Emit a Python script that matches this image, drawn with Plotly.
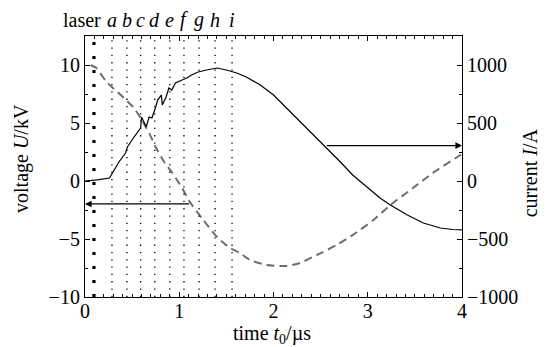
import plotly.graph_objects as go

# ---- data ----
t_current = [0.0, 0.13, 0.26, 0.31, 0.36, 0.43, 0.45, 0.52, 0.59, 0.60, 0.65, 0.68, 0.71,
             0.75, 0.77, 0.81, 0.82, 0.86, 0.89, 0.92, 0.96, 1.03, 1.08, 1.13, 1.20, 1.29,
             1.40, 1.50, 1.61, 1.71, 1.86, 2.00, 2.14, 2.28, 2.42, 2.55, 2.71, 2.84, 2.99,
             3.13, 3.24, 3.42, 3.59, 3.77, 3.90, 4.00]
current = [0, 9, 26, 95, 164, 241, 293, 379, 457, 552, 466, 552, 543,
           638, 698, 741, 655, 724, 802, 784, 845, 871, 888, 914, 940, 957,
           974, 957, 931, 897, 828, 741, 629, 509, 400, 300, 164, 52, -52,
           -147, -207, -293, -362, -405, -418, -422]

t_voltage = [0.06, 0.12, 0.23, 0.38, 0.52, 0.60, 0.68, 0.75, 0.84, 0.92, 1.03, 1.11, 1.25,
             1.40, 1.54, 1.64, 1.75, 1.93, 2.14, 2.28, 2.46, 2.67, 2.84, 3.06, 3.24, 3.48,
             3.69, 3.95, 4.00]
voltage = [10.0, 9.74, 8.53, 7.41, 6.29, 5.3, 4.14, 2.93, 1.64, 0.78, -0.6, -1.78, -3.3,
           -4.83, -5.78, -6.2, -6.8, -7.24, -7.33, -7.07, -6.38, -5.52, -4.66, -3.36, -2.07, -0.6,
           0.69, 2.07, 2.33]

laser_time = 0.095
frame_labels = ["a", "b", "c", "d", "e", "f", "g", "h", "i"]
frame_times = [0.286, 0.445, 0.59, 0.74, 0.90, 1.05, 1.21, 1.38, 1.56]

x_ticks = [0, 1, 2, 3, 4]
u_ticks = [-10, -5, 0, 5, 10]
u_tick_text = ["\u221210", "\u22125", "0", "5", "10"]
i_ticks = [-1000, -500, 0, 500, 1000]
i_tick_text = ["\u22121000", "\u2212500", "0", "500", "1000"]

voltage_arrow = {"from_t": 1.12, "to_t": 0.0, "value": -1.98}
current_arrow = {"from_t": 2.55, "to_t": 4.0, "value": 305}

FONT = "Liberation Serif, Times New Roman, serif"
FS = 20
fig = go.Figure()

# frame lines
for ft in frame_times:
    fig.add_shape(type="line", x0=ft, x1=ft, y0=0, y1=1, xref="x", yref="paper",
                  line=dict(color="black", width=1.3, dash="1.3px,6px"))
fig.add_shape(type="line", x0=laser_time, x1=laser_time, y0=0, y1=1, xref="x", yref="paper",
              line=dict(color="black", width=3.2, dash="3px,11px"))

fig.add_trace(go.Scatter(x=t_voltage, y=voltage, mode="lines", yaxis="y",
                         line=dict(color="#6e6e6e", width=2, dash="8px,5px", shape="spline",
                                   smoothing=0.6),
                         showlegend=False))
fig.add_trace(go.Scatter(x=t_current, y=current, mode="lines", yaxis="y2",
                         line=dict(color="black", width=1.2),
                         showlegend=False))

ann = []
ann.append(dict(x=voltage_arrow["to_t"], y=voltage_arrow["value"], xref="x", yref="y",
                ax=voltage_arrow["from_t"], ay=voltage_arrow["value"], axref="x", ayref="y",
                showarrow=True, arrowhead=2, arrowsize=1.1, arrowwidth=1.2, arrowcolor="black", text=""))
ann.append(dict(x=current_arrow["to_t"], y=current_arrow["value"], xref="x", yref="y2",
                ax=current_arrow["from_t"], ay=current_arrow["value"], axref="x", ayref="y2",
                showarrow=True, arrowhead=2, arrowsize=1.1, arrowwidth=1.2, arrowcolor="black", text=""))
# top labels
ann.append(dict(x=laser_time, y=1, xref="x", yref="paper", yshift=3, xshift=9,
                text="laser", showarrow=False, xanchor="right", yanchor="bottom",
                font=dict(family=FONT, size=FS, color="black")))
for lab, ft in zip(frame_labels, frame_times):
    ann.append(dict(x=ft, y=1, xref="x", yref="paper", yshift=3,
                    text="<i>%s</i>" % lab, showarrow=False, xanchor="center", yanchor="bottom",
                    font=dict(family=FONT, size=FS, color="black")))
# axis titles
ann.append(dict(x=0.497, y=-0.145, xref="paper", yref="paper", text="time <i>t</i><sub>0</sub>/µs",
                showarrow=False, xanchor="center", yanchor="middle",
                font=dict(family=FONT, size=FS, color="black")))
ann.append(dict(x=-0.167, y=0.529, xref="paper", yref="paper", text="voltage <i>U</i>/kV",
                showarrow=False, textangle=-90, xanchor="center", yanchor="middle",
                font=dict(family=FONT, size=FS, color="black")))
ann.append(dict(x=1.18, y=0.477, xref="paper", yref="paper", text="current <i>I</i>/A",
                showarrow=False, textangle=-90, xanchor="center", yanchor="middle",
                font=dict(family=FONT, size=FS, color="black")))

fig.update_layout(
    width=539, height=339,
    margin=dict(l=77, r=85, t=28, b=50),
    paper_bgcolor="white", plot_bgcolor="white",
    font=dict(family=FONT, size=FS, color="black"),
    showlegend=False,
    annotations=ann,
    xaxis=dict(range=[0, 4], tickvals=x_ticks, ticks="inside", ticklen=5,
               tickcolor="black", showline=True, linecolor="black", linewidth=1.2,
               mirror="ticks", showgrid=False, zeroline=False, ticklabelstandoff=-4,
               minor=dict(dtick=0.1, ticks="inside", ticklen=3, tickcolor="black", showgrid=False),
               tickfont=dict(family=FONT, size=FS)),
    yaxis=dict(range=[-10, 12.5], tickvals=u_ticks, ticktext=u_tick_text,
               ticks="inside", ticklen=5, tickcolor="black", showline=True, linecolor="black",
               linewidth=1.2, showgrid=False, zeroline=False,
               minor=dict(dtick=2.5, ticks="inside", ticklen=3, tickcolor="black", showgrid=False),
               tickfont=dict(family=FONT, size=FS)),
    yaxis2=dict(range=[-1000, 1250], tickvals=i_ticks, ticktext=i_tick_text,
                overlaying="y", side="right", anchor="x",
                ticks="inside", ticklen=5, tickcolor="black", showline=True, linecolor="black",
                linewidth=1.2, showgrid=False, zeroline=False,
                minor=dict(dtick=250, ticks="inside", ticklen=3, tickcolor="black", showgrid=False),
                tickfont=dict(family=FONT, size=FS)),
)

fig.write_html("out.html")
